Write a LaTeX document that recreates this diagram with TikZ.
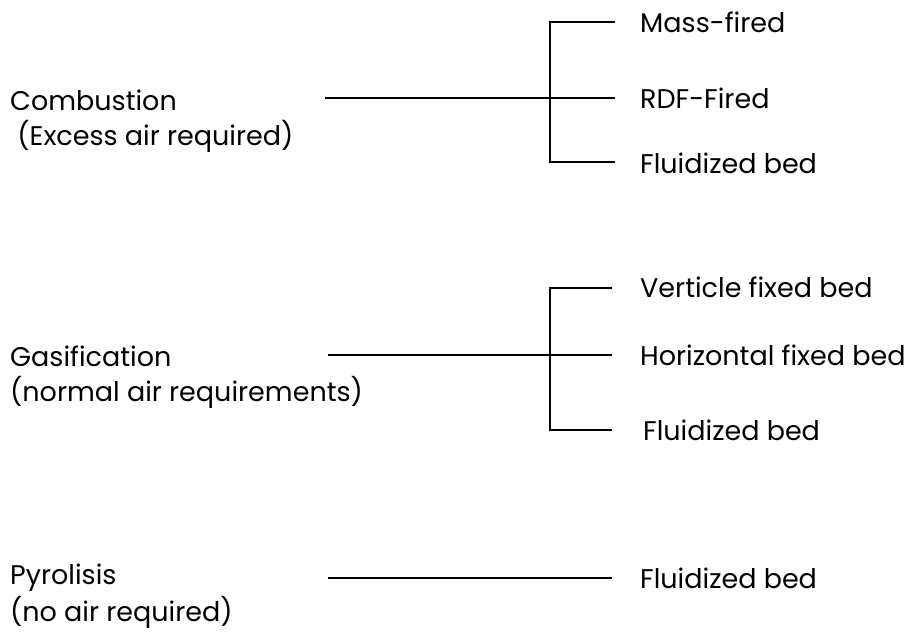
\documentclass[tikz,border=0pt]{standalone}
\usepackage{fontspec}
\setmainfont{Poppins}
\begin{document}
\begin{tikzpicture}[x=1pt,y=-1pt,
  lbl/.style={anchor=west,inner sep=0pt,font=\fontsize{27}{31}\selectfont},
  ln/.style={line width=1.3pt}]
\useasboundingbox[fill=white] (0,0) rectangle (922,633);
% group 1
\node[lbl] (c1) at (10,100) {Combustion};
\node[lbl] (c1b) at (10,136) {\ (Excess air required)};
\node[lbl] (m1) at (640,22) {Mass-fired};
\node[lbl] (m2) at (640,98) {RDF-Fired};
\node[lbl] (m3) at (640,163) {Fluidized bed};
\coordinate (s1) at (325,98);
\coordinate (b1t) at (550,22);
\coordinate (b1b) at (550,162);
\draw[ln] (s1) -- (615,98);
\draw[ln] (615,22) -- (b1t) -- (b1b) -- (615,162);
% group 2
\node[lbl] (g1) at (10,356) {Gasification};
\node[lbl] (g1b) at (10,392) {(normal air requirements)};
\node[lbl] (v1) at (640,287) {Verticle fixed bed};
\node[lbl] (v2) at (640,355) {Horizontal fixed bed};
\node[lbl] (v3) at (643,430) {Fluidized bed};
\coordinate (s2) at (328,355);
\coordinate (b2t) at (550,288);
\coordinate (b2b) at (550,430);
\draw[ln] (s2) -- (612,355);
\draw[ln] (612,288) -- (b2t) -- (b2b) -- (612,430);
% group 3
\node[lbl] (p1) at (10,578) {Pyrolisis};
\node[lbl] (p1b) at (10,612) {(no air required)};
\node[lbl] (f1) at (640,578) {Fluidized bed};
\draw[ln] (328,578) -- (612,578);
\end{tikzpicture}
\end{document}
